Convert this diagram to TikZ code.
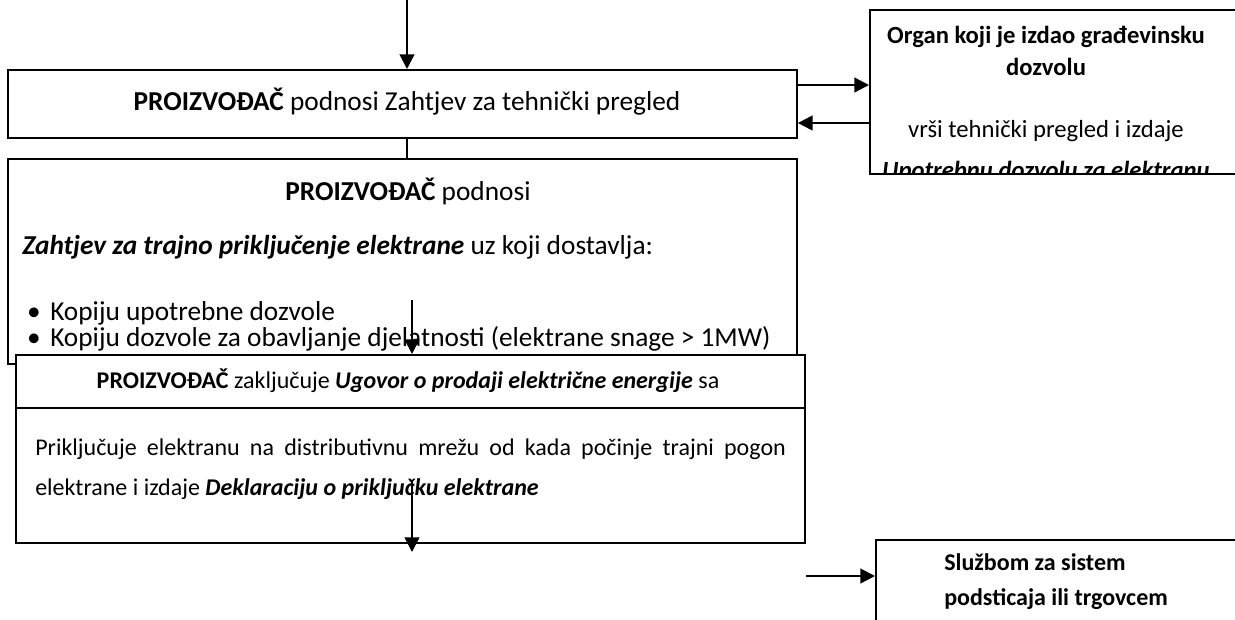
\documentclass[tikz,border=0pt]{standalone}
\usepackage{fontspec}
\setmainfont{Carlito}
\usetikzlibrary{arrows.meta}
\begin{document}
\begin{tikzpicture}[x=0.75pt,y=-0.75pt,
  box/.style={draw, line width=1.4pt, fill=white, rectangle, anchor=north west, inner sep=0pt},
  conn/.style={line width=1.6pt},
  arr/.style={conn, -{Triangle[length=11pt,width=11pt]}},
  txt/.style={inner sep=0pt, font=\fontsize{18}{22}\selectfont},
  bigtxt/.style={inner sep=0pt, font=\fontsize{20.5}{24}\selectfont},
  midtxt/.style={inner sep=0pt, font=\fontsize{18.5}{22}\selectfont},
]
\useasboundingbox (0,0) rectangle (1235,619);
\clip (0,0) rectangle (1235,619);

% box 1
\node[box, minimum width=591.75pt, minimum height=51pt] (b1) at (7,69) {};
\node[bigtxt, anchor=base] (t1) at (407,110) {\textbf{PROIZVOĐAČ} podnosi Zahtjev za tehnički pregled};

% box 2
\node[box, minimum width=591.75pt, minimum height=153.75pt] (b2) at (7,158) {};
\node[bigtxt, anchor=base] (t2a) at (408,200) {\textbf{PROIZVOĐAČ} podnosi};
\node[bigtxt, anchor=base west] (t2b) at (22,254) {\textbf{\textit{Zahtjev za trajno priključenje elektrane}} uz koji dostavlja:};
\node[bigtxt, anchor=base] (bu1) at (34,320) {•};
\node[bigtxt, anchor=base west] (t2c) at (50,320) {Kopiju upotrebne dozvole};
\node[bigtxt, anchor=base] (bu2) at (34,346) {•};
\node[bigtxt, anchor=base west] (t2d) at (50,346) {Kopiju dozvole za obavljanje djelatnosti (elektrane snage > 1MW)};

% box 3
\node[box, minimum width=591.75pt, minimum height=141pt] (b3) at (15,354) {};
\draw[line width=1.4pt] (b3.west |- 0,408) -- (b3.east |- 0,408);
\node[txt, anchor=base] (t3a) at (408,388) {\textbf{PROIZVOĐAČ} zaključuje \textbf{\textit{Ugovor o prodaji električne energije}} sa};
\node[txt, anchor=base west] (t3b) at (35,455) {\makebox[563pt][s]{Priključuje elektranu na distributivnu mrežu od kada počinje trajni pogon}};
\node[txt, anchor=base west] (t3c) at (35,495) {elektrane i izdaje \textbf{\textit{Deklaraciju o priključku elektrane}}};

% organ box
\node[box, minimum width=282pt, minimum height=123pt] (org) at (869,9) {};
\begin{scope}
  \clip (org.north west) rectangle (org.south east);
  \node[midtxt, anchor=base] (o1) at (1046,43) {\textbf{Organ koji je izdao građevinsku}};
  \node[midtxt, anchor=base] (o2) at (1046,75) {\textbf{dozvolu}};
  \node[midtxt, anchor=base] (o3) at (1046,137) {vrši tehnički pregled i izdaje};
  \node[midtxt, anchor=base] (o4) at (1046,178) {\textbf{\textit{Upotrebnu dozvolu za elektranu}}};
\end{scope}

% box 4
\node[box, minimum width=277.5pt, minimum height=75.75pt] (b4) at (875,539) {};
\node[txt, anchor=base west] (s1) at (944,570) {\textbf{Službom za sistem}};
\node[txt, anchor=base west] (s2) at (944,605) {\textbf{podsticaja ili trgovcem}};

% connectors
\coordinate (top) at (407,0);
\draw[arr] (top) -- (top |- b1.north);
\draw[conn] (b1.south -| top) -- (b2.north -| top);
\draw[arr] (b1.east |- 0,85) -- (org.west |- 0,85);
\draw[arr] (org.west |- 0,123) -- (b1.east |- 0,123);
\coordinate (m) at (412,300);
\draw[arr] (m) -- (m |- b3.north);
\coordinate (l) at (412,480);
\coordinate (le) at (412,552);
\draw[arr] (l) -- (le);
\draw[arr] (b3.east |- 0,576) -- (b4.west |- 0,576);
\end{tikzpicture}
\end{document}
